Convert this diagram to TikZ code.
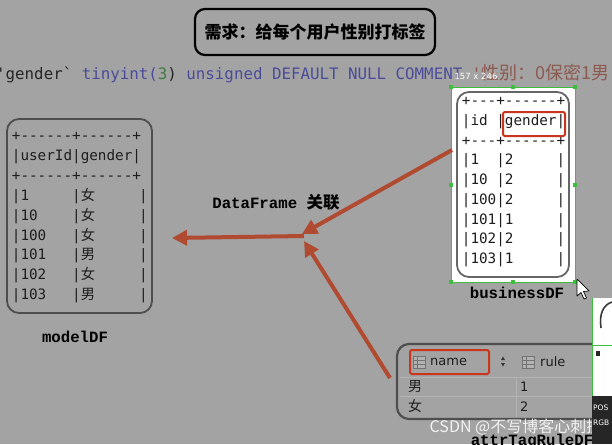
\documentclass[tikz,border=0pt]{standalone}
\usepackage{fontspec}
\setmonofont{DejaVu Sans Mono}
\newfontfamily\cjk{Noto Sans CJK SC}
\newfontfamily\lblfont{Liberation Mono}
\newfontfamily\uisans{DejaVu Sans}
\usetikzlibrary{arrows.meta}
\definecolor{bgc}{HTML}{A3A3A3}
\definecolor{arrowc}{HTML}{B04A30}
\definecolor{redbox}{HTML}{C8361E}
\definecolor{greensel}{HTML}{3DBE3D}
\definecolor{tabtext}{HTML}{1E1E1E}
\definecolor{codedark}{HTML}{262626}
\definecolor{codeblue}{HTML}{4B4B9B}
\definecolor{codegreen}{HTML}{3F7A3F}
\definecolor{codebrown}{HTML}{8C5A50}
\definecolor{framec}{HTML}{4E4E4E}
\definecolor{sepc}{HTML}{B4B4B4}
\tikzset{
  tbl/.style={anchor=west, inner sep=0pt, text=tabtext, text height=10pt, text depth=3pt,
    font=\ttfamily\fontsize{14.3}{14.3}\selectfont},
  lbl/.style={inner sep=0pt, text=black, font=\lblfont\bfseries\fontsize{15.7}{16}\selectfont},
  arr/.style={draw=arrowc, line width=4pt, -{Triangle[length=15pt,width=15pt]}},
  frame/.style={draw=framec, line width=1.8pt, rounded corners=12pt},
  handle/.style={fill=greensel, minimum size=4pt, inner sep=0pt},
  uitxt/.style={inner sep=0pt, text=tabtext, font=\uisans\fontsize{13}{13}\selectfont},
}
\begin{document}
\begin{tikzpicture}[x=1pt, y=-1pt]
\useasboundingbox (0,0) rectangle (612,444);
\clip (0,0) rectangle (612,444);
\fill[bgc] (0,0) rectangle (612,444);

% title
\node[draw=black, line width=2.2pt, rounded corners=10pt, minimum width=240pt, minimum height=46pt,
  inner sep=0pt, font=\cjk\bfseries\fontsize{17}{17}\selectfont] (title) at (315,32) {需求：给每个用户性别打标签};

% code line
\node[anchor=west, inner sep=0pt, font=\ttfamily\fontsize{15.8}{16}\selectfont] (code) at (-4,74)
 {{\color{codedark}\symbol{39}gender\symbol{96}} {\color{codeblue}tinyint(}{\color{codegreen}3}{\color{codedark})} {\color{codeblue}unsigned DEFAULT NULL COMMENT} {\color{codebrown}\symbol{39}{\cjk\fontsize{18}{18}\selectfont 性别：0保密1男}}};

% modelDF
\draw[frame] (7,119) rectangle (152,313);
\node[tbl] (m0) at (11.7,137) {+------+------+};
\node[tbl] (m1) at (11.7,156.9) {|userId|gender|};
\node[tbl] (m2) at (11.7,176.8) {+------+------+};
\foreach \id/\g [count=\i from 3] in {1/女,10/女,100/女,101/男,102/女,103/男}{
  \node[tbl] (ma\i) at (11.7,{137+19.9*\i}) {|\id};
  \node[tbl] (mb\i) at (72,{137+19.9*\i}) {|{\cjk \g}};
  \node[tbl] (mc\i) at (139,{137+19.9*\i}) {|};
}
\node[lbl] (modellbl) at (75,337) {modelDF};

% businessDF with selection
\fill[white] (451,87) rectangle (575,282);
\draw[greensel, line width=0.9pt] (451,87) rectangle (575,282);
\foreach \hx/\hy [count=\k] in {451/87,513/87,575/87,451/184.5,575/184.5,451/282,513/282,575/282}{
  \node[handle] (h\k) at (\hx,\hy) {};
}
\draw[frame, draw=gray!80!black] (457,92) rectangle (569,277);
\node[tbl] (b0) at (461.7,102) {+---+------+};
\node[tbl] (b1) at (461.7,121.75) {|id~|gender|};
\node[tbl] (b2) at (461.7,141.5) {+---+------+};
\foreach \row [count=\i from 3] in {|1~~|2~~~~~|,|10~|2~~~~~|,|100|2~~~~~|,|101|1~~~~~|,|102|2~~~~~|,|103|1~~~~~|}{
  \node[tbl] (br\i) at (461.7,{102+19.75*\i}) {\row};
}
\draw[redbox, line width=2pt, rounded corners=1.5pt] (503,112) rectangle (565,136);
\node[lbl] (bizlbl) at (517,293) {businessDF};
% size overlay
\node[inner sep=0pt, text=white, font=\uisans\fontsize{8.5}{9}\selectfont] (sizetag) at (476,76) {157 x 246};
% cursor
\draw[black, fill=white, line width=0.7pt, line join=round] (577,279) -- (577,296) -- (581,292.5) -- (584,299) -- (586.5,298) -- (583.5,291.5) -- (589,291) -- cycle;

% label and arrows
\node[lbl] (dflbl) at (276,202) {DataFrame {\cjk\bfseries\fontsize{16.5}{17}\selectfont 关联}};
\coordinate (bizout) at (452,150);
\coordinate (tipA) at (302,234);
\coordinate (ruleout) at (390,378);
\coordinate (tipB) at (304,241);
\coordinate (join) at (304,236);
\coordinate (modelin) at (172,238);
\draw[arr] (bizout) -- (tipA);
\draw[arr] (ruleout) -- (tipB);
\draw[arr] (join) -- (modelin);

% attrTagRuleDF table
\draw[sepc, line width=0.8pt] (400,377) -- (612,377);
\draw[sepc, line width=0.8pt] (400,396.5) -- (612,396.5);
\draw[sepc, line width=0.8pt] (516,378) -- (516,417);
\draw[frame, line width=2.2pt] (397,344) rectangle (660,419);
\draw[gray!90!black, line width=0.6pt, fill=gray!60] (413,356) rectangle (425,368);
\draw[gray!90!black, line width=0.5pt] (413,360) -- (425,360) (413,364) -- (425,364) (417,356) -- (417,368);
\node[uitxt, anchor=west] (namehdr) at (430,361.5) {name};
\fill[gray!40!black] (501,360) -- (505,360) -- (503,356.5) -- cycle (501,363) -- (505,363) -- (503,366.5) -- cycle;
\draw[gray!90!black, line width=0.6pt, fill=gray!60] (522,356) rectangle (534,368);
\draw[gray!90!black, line width=0.5pt] (522,360) -- (534,360) (522,364) -- (534,364) (526,356) -- (526,368);
\node[uitxt, anchor=west] (rulehdr) at (540,361.5) {rule};
\draw[redbox, line width=2pt, rounded corners=1.5pt] (410,350) rectangle (489,374);
\node[uitxt, anchor=west, font=\cjk\fontsize{14}{14}\selectfont] (r1a) at (408,387) {男};
\node[uitxt, anchor=west] (r1b) at (520,387) {1};
\node[uitxt, anchor=west, font=\cjk\fontsize{14}{14}\selectfont] (r2a) at (408,406.5) {女};
\node[uitxt, anchor=west] (r2b) at (520,406.5) {2};
\node[lbl, anchor=base] (rulelbl) at (532,445) {attrTagRuleDF};
\node[inner sep=0pt, text=white, opacity=0.85, font=\cjk\fontsize{16}{16}\selectfont] (wm) at (516,427) {CSDN @不写博客心刺挠};

% magnifier panel at right edge
\fill[white] (592,298) rectangle (612,396);
\draw[greensel, line width=0.8pt] (592,298) -- (592,396) (592,345) -- (612,345);
\draw[gray!45!black, line width=1.6pt] (612,302) .. controls (603,305) and (599,314) .. (601,328);
\fill[gray!30!black] (596,351) rectangle (600,356);
\fill[black!85] (592,396) rectangle (612,444);
\node[anchor=west, inner sep=0pt, text=white, font=\uisans\fontsize{7.5}{8}\selectfont] (pos) at (593,408) {POS};
\node[anchor=west, inner sep=0pt, text=white, font=\uisans\fontsize{7.5}{8}\selectfont] (rgb) at (593,423) {RGB};
\end{tikzpicture}
\end{document}
